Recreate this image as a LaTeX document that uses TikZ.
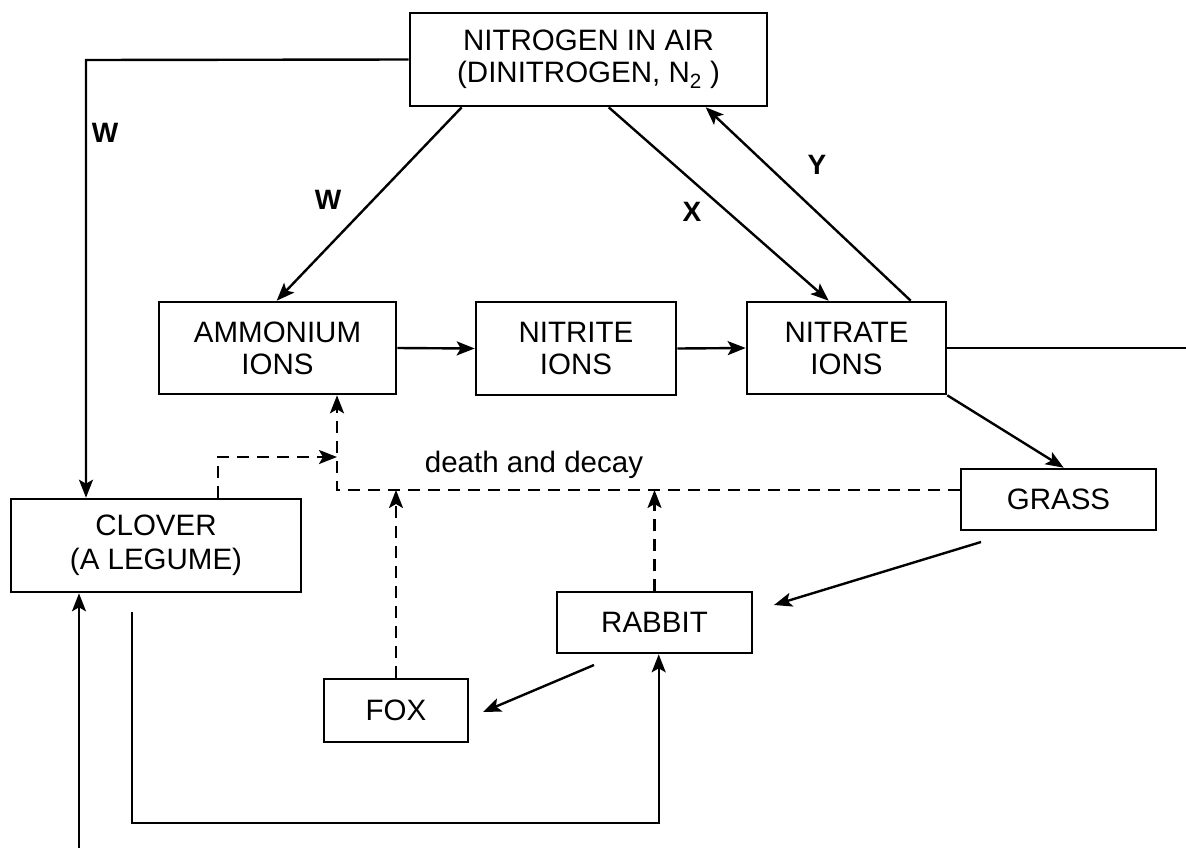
\documentclass[tikz,border=0pt]{standalone}
\usepackage{fontspec}
\setmainfont{Liberation Sans}
\usetikzlibrary{arrows.meta}
\begin{document}
\begin{tikzpicture}[x=1pt,y=-1pt,
  box/.style={draw, line width=2.6pt, inner sep=0pt, align=center, font=\fontsize{29.5}{32}\selectfont},
  arr/.style={line width=2.4pt, -{Stealth[length=18pt,width=14pt,inset=4pt]}},
  ln/.style={line width=2.4pt},
  dsh/.style={dash pattern=on 12pt off 8pt},
  lbl/.style={font=\fontsize{28}{30}\selectfont\bfseries},
  txt/.style={font=\fontsize{29.5}{32}\selectfont}]
\useasboundingbox (0,0) rectangle (1186,855);

% boxes
\node[box, minimum width=357pt, minimum height=93pt] (nit) at (588.5,59.5)
  {NITROGEN IN AIR\\(DINITROGEN, N\textsubscript{2} )};
\node[box, minimum width=237pt, minimum height=92pt] (amm) at (277.5,348) {AMMONIUM\\IONS};
\node[box, minimum width=200pt, minimum height=93pt] (nitr) at (576,348.5) {NITRITE\\IONS};
\node[box, minimum width=199pt, minimum height=92pt] (nitra) at (846.5,348) {NITRATE\\IONS};
\node[box, minimum width=195pt, minimum height=61pt] (grass) at (1058.5,499.5) {GRASS};
\node[box, minimum width=290pt, minimum height=93pt, font=\fontsize{29.5}{34}\selectfont] (clover) at (156,545.5) {CLOVER\\(A LEGUME)};
\node[box, minimum width=195pt, minimum height=61pt] (rabbit) at (654.5,622.5) {RABBIT};
\node[box, minimum width=144pt, minimum height=63pt] (fox) at (396,710.5) {FOX};

% coordinates
\coordinate (c1) at (86,60);
\coordinate (rend) at (1186,348);
\coordinate (d1) at (337,490);
\coordinate (d2) at (337,457);
\coordinate (g1) at (981,542);
\coordinate (r1) at (774,605);
\coordinate (r2) at (594,665);
\coordinate (f1) at (483,712);
\coordinate (b1) at (132,612);
\coordinate (b2) at (132,823);
\coordinate (b0) at (79,848);

% solid connectors
\draw[arr] (nit.west) -- (c1) -- (c1 |- clover.north);
\draw[arr] ([xshift=53pt]nit.south west) -- ([xshift=119pt]amm.north west);
\draw[arr] ([xshift=200pt]nit.south west) -- ([xshift=83pt]nitra.north west);
\draw[arr] ([xshift=165pt]nitra.north west) -- ([xshift=297pt]nit.south west);
\draw[arr] (amm.east) -- (nitr.west);
\draw[arr] (nitr.east) -- (nitra.west);
\draw[ln] (nitra.east) -- (rend);
\draw[arr] (nitra.south east) -- ([xshift=104pt]grass.north west);
\draw[arr] (g1) -- (r1);
\draw[arr] (r2) -- (f1);
\draw[arr] (b1) -- (b2) -| ([xshift=103pt]rabbit.south west);
\draw[arr] (b0) -- (b0 |- clover.south);

% dashed connectors
\draw[arr,dsh] (grass.west |- d1) -- (d1) -- (d1 |- amm.south);
\draw[arr,dsh] ([xshift=208pt]clover.north west) |- (d2);
\draw[arr,dsh] (fox.north) -- (fox.north |- d1);
\draw[arr,dsh] (rabbit.north) -- (rabbit.north |- d1);

% labels
\node[lbl] (lw1) at (105,133) {W};
\node[lbl] (lw2) at (328,200) {W};
\node[lbl] (lx) at (692,212) {X};
\node[lbl] (ly) at (817,165) {Y};
\node[txt] (dd) at (534,465) {death and decay};
\end{tikzpicture}
\end{document}
